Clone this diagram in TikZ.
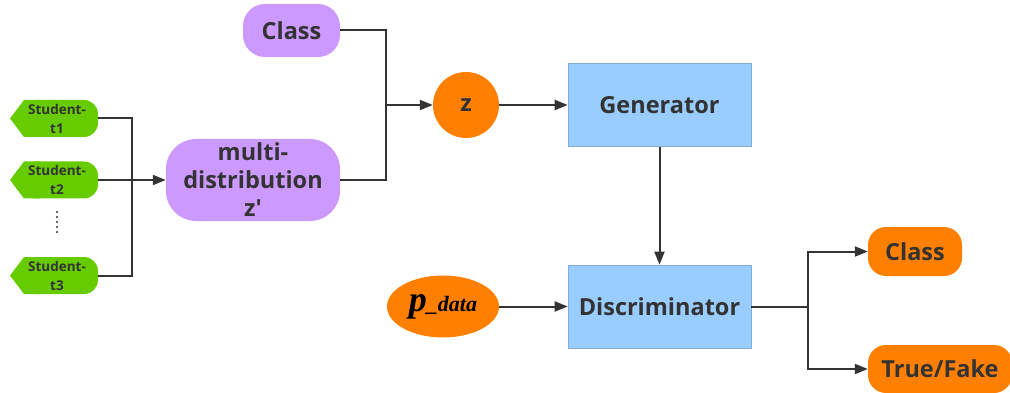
\documentclass[tikz,border=0pt]{standalone}
\usepackage{fontspec}
\setmainfont{Open Sans}
\newfontfamily\pfont{Liberation Serif}
\usetikzlibrary{arrows.meta,shapes.geometric}
\definecolor{purp}{HTML}{CC99FF}
\definecolor{orng}{HTML}{FF8000}
\definecolor{grn}{HTML}{66CC00}
\definecolor{blu}{HTML}{99CCFF}
\definecolor{txt}{HTML}{333333}
\definecolor{ln}{HTML}{333333}
\tikzset{
  lbl/.style={font=\fontsize{23.5}{28}\selectfont\bfseries, text=txt, align=center, inner sep=0},
  pbox/.style={lbl, fill=purp, rounded corners=22},
  obox/.style={lbl, fill=orng, rounded corners=18},
  bbox/.style={lbl, fill=blu, draw=blu!85!black, line width=0.6},
  sbox/.style={font=\fontsize{13.5}{19}\selectfont\bfseries, text=txt, align=center, inner sep=0, minimum width=88, minimum height=37},
  conn/.style={draw=ln, line width=2},
  arr/.style={conn, -{Triangle[length=13,width=10]}}
}
\begin{document}
\begin{tikzpicture}[x=1pt,y=-1pt]
\useasboundingbox (0,0) rectangle (1010,393);
% students
\foreach \n/\y/\t in {s1/118.5/t1, s2/180/t2, s3/275.5/t3}{
  \fill[grn, rounded corners=14] (22,\y-18.5) rectangle (98,\y+18.5);
  \fill[grn] (10,\y) -- (24,\y-18.5) -- (40,\y-18.5) -- (40,\y+18.5) -- (24,\y+18.5) -- cycle;
  \node[sbox] (\n) at (54,\y) {\hspace*{6pt}Student-\\\hspace*{6pt}\t};
}
\node[inner sep=0, minimum width=4, minimum height=22] (dots) at (57,222) {};
\foreach \k in {0,1,2,3,4} \fill[txt] (57,212+\k*5) circle (1.1);
% purple
\node[pbox, minimum width=97, minimum height=53] (cls) at (291.5,30.5) {Class};
\node[pbox, rounded corners=30, minimum width=174, minimum height=82] (md) at (253,180) {multi-\\distribution\\z\textquotesingle};
% z
\node[lbl, circle, fill=orng, minimum size=66] (z) at (466,105) {z};
\node[bbox, minimum width=183, minimum height=83] (gen) at (659.5,105) {Generator};
\node[bbox, minimum width=183, minimum height=83] (disc) at (659.5,306.5) {Discriminator};
\node[lbl, ellipse, fill=orng, minimum width=112, minimum height=62, text=black] (pd) at (443,306.5) {\pfont\bfseries\itshape{\fontsize{36}{36}\selectfont p}{\fontsize{22}{22}\selectfont\_data}};
\node[obox, minimum width=94, minimum height=49] (oc) at (915,251.5) {Class};
\node[obox, minimum width=144, minimum height=48] (tf) at (940,369) {True/Fake};
% connectors
\coordinate (sj) at (132,180);
\draw[conn] (s1.east) -| (sj) |- (s3.east);
\draw[arr] (s2.east) -- (md.west);
\coordinate (zj) at (386,105);
\draw[conn] (cls.east) -| (zj) |- (md.east);
\draw[arr] (zj) -- (z.west);
\draw[arr] (z.east) -- (gen.west);
\draw[arr] (gen.south) -- (disc.north);
\draw[arr] (pd.east) -- (disc.west);
\coordinate (dj) at (808,306.5);
\draw[conn] (disc.east) -- (dj);
\draw[arr] (dj) |- (oc.west);
\draw[arr] (dj) |- (tf.west);
\end{tikzpicture}
\end{document}
